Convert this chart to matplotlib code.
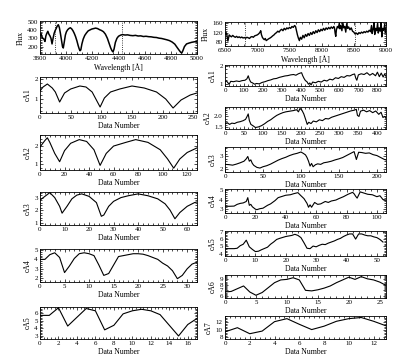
import matplotlib
matplotlib.use("Agg")
import matplotlib.pyplot as plt
from matplotlib.ticker import MultipleLocator, AutoMinorLocator

# ---- blue spectrum (3800-5000 A) ----
blue_wl = [3800, 3808, 3815, 3822, 3830, 3838, 3845, 3852, 3860, 3868,
           3876, 3884, 3892, 3900, 3908, 3916, 3924, 3932, 3940, 3948,
           3956, 3964, 3972, 3978, 3986, 3994, 4002, 4012, 4022, 4032,
           4042, 4052, 4062, 4072, 4082, 4092, 4100, 4106, 4112, 4120,
           4130, 4142, 4155, 4168, 4180, 4195, 4210, 4225, 4240, 4255,
           4270, 4285, 4300, 4315, 4328, 4340, 4350, 4358, 4366, 4376,
           4388, 4400, 4415, 4430, 4450, 4470, 4490, 4510, 4530, 4550,
           4570, 4590, 4610, 4630, 4650, 4670, 4690, 4710, 4730, 4750,
           4770, 4790, 4810, 4830, 4850, 4866, 4876, 4884, 4892, 4904,
           4920, 4940, 4960, 4980, 5000]
blue_flux = [330, 355, 320, 300, 290, 262, 330, 360, 385, 350,
             330, 300, 232, 300, 360, 395, 420, 450, 465, 430,
             360, 280, 200, 183, 260, 340, 380, 405, 420, 428,
             415, 392, 360, 320, 270, 210, 170, 150, 160, 230,
             290, 335, 365, 390, 400, 412, 418, 424, 418, 405,
             395, 380, 350, 300, 240, 185, 150, 135, 170, 250,
             300, 325, 338, 345, 340, 342, 335, 332, 336, 328,
             330, 322, 325, 320, 318, 312, 310, 302, 298, 290,
             282, 272, 255, 230, 185, 150, 130, 123, 150, 200,
             232, 243, 252, 258, 262]

# ---- red spectrum (6500-9000 A) ----
red_wl = [6500, 6515, 6525, 6535, 6545, 6555, 6565, 6580, 6600, 6620,
          6640, 6660, 6680, 6700, 6720, 6740, 6760, 6780, 6800, 6820,
          6840, 6860, 6880, 6900, 6920, 6940, 6960, 6980, 7000, 7020,
          7040, 7055, 7065, 7080, 7095, 7110, 7125, 7140, 7160, 7180,
          7200, 7220, 7240, 7260, 7280, 7300, 7320, 7340, 7360, 7380,
          7400, 7420, 7440, 7460, 7480, 7500, 7520, 7540, 7560, 7580,
          7595, 7610, 7625, 7640, 7655, 7670, 7690, 7710, 7730, 7750,
          7770, 7790, 7810, 7830, 7850, 7870, 7890, 7910, 7930, 7950,
          7970, 7990, 8010, 8030, 8050, 8070, 8090, 8110, 8130, 8150,
          8170, 8190, 8200, 8210, 8220, 8230, 8245, 8260, 8275, 8285,
          8300, 8315, 8330, 8345, 8360, 8375, 8390, 8405, 8420, 8440,
          8460, 8480, 8500, 8520, 8540, 8560, 8580, 8600, 8620, 8640,
          8660, 8680, 8700, 8720, 8740, 8760, 8775, 8785, 8800, 8815,
          8825, 8840, 8855, 8870, 8880, 8895, 8910, 8925, 8935, 8950,
          8965, 8980, 8990, 9000]
red_flux = [112, 120, 116, 100, 84, 96, 110, 106, 102, 108,
            103, 100, 104, 99, 102, 98, 101, 97, 99, 96,
            100, 98, 95, 101, 103, 100, 106, 108, 110, 114,
            120, 128, 112, 100, 94, 90, 95, 86, 90, 94,
            97, 101, 106, 110, 116, 120, 126, 122, 130, 134,
            128, 138, 132, 140, 136, 142, 138, 146, 142, 150,
            146, 128, 110, 96, 86, 100, 92, 108, 98, 112,
            104, 116, 108, 120, 112, 124, 116, 128, 120, 132,
            124, 134, 128, 138, 130, 140, 134, 142, 136, 144,
            138, 146, 140, 118, 104, 132, 146, 140, 160, 136,
            150, 128, 162, 140, 146, 122, 158, 138, 144, 132,
            140, 126, 122, 114, 118, 112, 120, 116, 122, 118,
            124, 120, 126, 122, 130, 124, 150, 116, 134, 165,
            112, 138, 128, 160, 118, 140, 126, 164, 102, 138,
            130, 156, 120, 134]

# ---- blue approximation coefficients ----
b_ca1_x = [0, 5, 12, 20, 25, 32, 40, 50, 65, 75, 85, 98, 105, 115, 130,
           150, 170, 190, 205, 217, 230, 245, 256]
b_ca1_y = [1.4, 1.6, 1.75, 1.55, 1.35, 0.85, 1.3, 1.5, 1.65, 1.6, 1.35, 0.6,
           1.05, 1.35, 1.5, 1.65, 1.55, 1.35, 1.0, 0.55, 0.95, 1.2, 1.3]

b_ca2_x = [0, 4, 6, 8, 12, 16, 20, 25, 32, 38, 44, 49, 54, 60, 70, 78, 88,
           98, 104, 109, 114, 120, 128]
b_ca2_y = [1.95, 2.3, 2.45, 2.2, 1.6, 1.15, 1.75, 2.15, 2.35, 2.25, 1.8, 0.95,
           1.6, 2.0, 2.2, 2.35, 2.2, 1.8, 1.3, 0.8, 1.3, 1.65, 1.9]

b_ca3_x = [0, 2, 4, 6, 8, 9, 11, 13, 15, 17, 20, 23, 25, 26, 28, 30, 33, 36,
           40, 44, 48, 51, 53, 55, 57, 60, 63, 64]
b_ca3_y = [2.8, 3.1, 3.4, 3.0, 2.3, 1.75, 2.3, 2.9, 3.2, 3.3, 3.1, 2.6, 1.5,
           1.6, 2.3, 2.7, 3.0, 3.15, 3.3, 3.15, 2.9, 2.5, 2.0, 1.3, 1.8, 2.3,
           2.6, 2.65]

b_ca4_y = [4.0, 4.0, 4.5, 4.7, 4.2, 2.6, 3.3, 4.1, 4.6, 4.7, 4.6, 4.4, 3.4,
           2.3, 2.5, 3.4, 4.3, 4.4, 4.5, 4.6, 4.6, 4.55, 4.4, 4.2, 4.0, 3.6,
           3.3, 2.8, 1.95, 2.3, 3.0, 3.5, 3.7]

b_ca5_y = [5.7, 5.7, 6.7, 4.3, 5.45, 6.6, 6.3, 3.8, 4.4, 5.9, 6.3, 6.5, 6.3,
           5.8, 4.4, 3.0, 4.5, 5.3]

# ---- red approximation coefficients ----
r_ca1_x = [0, 8, 16, 22, 30, 45, 60, 75, 90, 105, 115, 122, 128, 135, 145,
           155, 165, 180, 195, 210, 225, 240, 255, 270, 285, 300, 315, 330,
           345, 360, 372, 385, 395, 402, 408, 415, 422, 430, 438, 445, 452,
           460, 475, 490, 505, 520, 535, 550, 565, 580, 595, 610, 625, 640,
           655, 670, 680, 687, 692, 700, 715, 730, 745, 760, 775, 790, 800,
           810, 820, 830, 838, 845]
r_ca1_y = [1.12, 1.16, 1.05, 0.98, 1.14, 1.12, 1.16, 1.13, 1.18, 1.2, 1.28,
           1.45, 1.25, 1.1, 1.05, 0.98, 1.02, 1.0, 1.08, 1.12, 1.18, 1.22,
           1.28, 1.3, 1.36, 1.4, 1.44, 1.46, 1.5, 1.52, 1.48, 1.56, 1.6,
           1.62, 1.45, 1.3, 1.18, 1.12, 0.98, 1.05, 0.94, 1.1, 1.06, 1.14,
           1.1, 1.2, 1.16, 1.26, 1.22, 1.34, 1.3, 1.4, 1.36, 1.46, 1.44,
           1.52, 1.55, 1.3, 1.2, 1.5, 1.56, 1.52, 1.62, 1.48, 1.58, 1.45,
           1.65, 1.4, 1.6, 1.38, 1.55, 1.42]

r_ca2_x = [0, 6, 12, 18, 25, 32, 40, 48, 54, 58, 61, 64, 68, 74, 80, 88, 96,
           104, 112, 120, 128, 136, 144, 152, 160, 170, 180, 188, 193, 197,
           202, 207, 212, 216, 220, 226, 232, 240, 248, 256, 264, 272, 280,
           290, 300, 310, 320, 330, 340, 345, 348, 352, 356, 364, 372, 380,
           388, 396, 404, 410, 415, 420, 423]
r_ca2_y = [1.66, 1.7, 1.62, 1.68, 1.66, 1.72, 1.75, 1.8, 1.86, 2.0, 2.12, 1.8,
           1.62, 1.55, 1.47, 1.5, 1.56, 1.65, 1.76, 1.84, 1.95, 2.05, 2.12,
           2.18, 2.22, 2.25, 2.28, 2.32, 2.22, 2.38, 2.3, 2.12, 1.85, 1.62,
           1.72, 1.66, 1.78, 1.74, 1.84, 1.8, 1.9, 1.88, 1.96, 2.02, 2.08,
           2.14, 2.2, 2.26, 2.3, 2.34, 2.05, 2.0, 2.25, 2.3, 2.22, 2.28, 2.18,
           2.26, 2.1, 2.2, 1.95, 2.0, 1.9]

r_ca3_x = [0, 5, 10, 15, 20, 25, 28, 30, 32, 34, 36, 38, 42, 46, 50, 55, 60,
           65, 70, 75, 80, 85, 90, 95, 100, 103, 106, 108, 110, 112, 114, 116,
           119, 122, 126, 130, 135, 140, 145, 150, 155, 160, 165, 170, 173,
           176, 180, 185, 190, 195, 200, 205, 210, 212]
r_ca3_y = [2.38, 2.36, 2.32, 2.4, 2.5, 2.62, 2.8, 2.98, 2.62, 2.72, 2.45, 2.3,
           2.15, 2.1, 2.2, 2.28, 2.4, 2.55, 2.7, 2.82, 2.92, 3.05, 3.15, 3.22,
           3.32, 3.22, 3.1, 2.9, 2.62, 2.25, 2.45, 2.2, 2.35, 2.42, 2.38, 2.5,
           2.55, 2.62, 2.72, 2.8, 2.9, 3.05, 3.2, 3.35, 2.75, 3.3, 3.28, 3.22,
           3.25, 3.12, 3.05, 2.9, 2.75, 2.72]

r_ca4_x = [0, 3, 6, 8, 10, 12, 14, 15, 16, 17, 18, 20, 21, 23, 25, 28, 30, 33,
           35, 38, 40, 43, 45, 48, 50, 52, 54, 55, 56, 57, 59, 61, 63, 66, 68,
           70, 73, 75, 78, 81, 84, 85, 86, 87, 89, 91, 94, 97, 100, 102, 104,
           106]
r_ca4_y = [3.3, 3.3, 3.32, 3.5, 3.6, 3.65, 3.8, 4.2, 3.4, 3.5, 3.25, 3.0, 2.95,
           3.05, 3.1, 3.4, 3.55, 3.9, 4.2, 4.35, 4.45, 4.5, 4.6, 4.72, 4.4,
           4.1, 3.6, 3.2, 3.45, 3.2, 3.7, 3.5, 3.55, 3.8, 3.7, 3.85, 3.95, 4.1,
           4.3, 4.55, 4.75, 4.6, 4.35, 4.15, 4.8, 4.7, 4.55, 4.5, 4.3, 4.4,
           4.0, 3.95]

r_ca5_x = [0, 3, 4, 5, 6, 7, 8, 9, 10, 11, 12, 14, 15, 16, 17, 18, 20, 22, 23,
           24, 25, 26, 27, 28, 29, 30, 31, 32, 33, 34, 35, 36, 37, 38, 39, 40,
           41, 42, 43, 44, 45, 46, 47, 48, 49, 50, 51, 52]
r_ca5_y = [4.7, 4.7, 4.75, 5.1, 5.3, 5.85, 4.95, 4.6, 4.3, 4.35, 4.55, 4.9,
           5.3, 5.6, 5.95, 6.1, 6.35, 6.5, 6.65, 6.5, 6.2, 5.5, 4.75, 4.7,
           5.05, 4.95, 5.15, 5.3, 5.25, 5.45, 5.6, 5.75, 5.95, 6.1, 6.35, 6.55,
           6.7, 6.7, 6.0, 6.7, 6.7, 6.55, 6.45, 6.45, 6.3, 6.2, 5.95, 5.6]

r_ca6_y = [6.7, 6.8, 7.3, 7.8, 6.7, 6.1, 6.6, 7.5, 8.4, 8.9, 9.0, 9.3, 8.9,
           7.0, 6.9, 7.1, 7.4, 7.8, 8.4, 8.9, 9.4, 9.0, 9.5, 9.1, 8.9, 8.5,
           7.9]

r_ca7_y = [9.4, 10.5, 8.9, 9.6, 12.1, 12.9, 11.4, 10.0, 10.9, 12.2, 12.9,
           13.2, 12.2, 11.0]

blue_marks = [3914, 4430]
red_marks = [6812, 8516]


def style(ax, xmaj, ymaj):
    ax.xaxis.set_major_locator(MultipleLocator(xmaj))
    ax.yaxis.set_major_locator(MultipleLocator(ymaj))
    ax.xaxis.set_minor_locator(AutoMinorLocator(5))
    ax.yaxis.set_minor_locator(AutoMinorLocator(5))
    ax.tick_params(which='both', direction='in', top=True, right=True,
                   width=0.5, pad=1.5)
    ax.tick_params(which='major', length=2.5)
    ax.tick_params(which='minor', length=1.2)
    for s in ax.spines.values():
        s.set_linewidth(0.6)


def main():
    plt.rcParams['font.family'] = ['Liberation Serif', 'DejaVu Serif']
    plt.rcParams['font.size'] = 5.5
    plt.rcParams['xtick.labelsize'] = 5
    plt.rcParams['ytick.labelsize'] = 5

    W, H = 407, 362
    fig = plt.figure(figsize=(W / 100, H / 100), dpi=100)

    def add_ax(left, right, top, bottom):
        return fig.add_axes([left / W, 1 - bottom / H,
                             (right - left) / W, (bottom - top) / H])

    L0, L1 = 40, 197
    R0, R1 = 225, 386

    # --- left column: blue arm ---
    ax = add_ax(L0, L1, 21, 54)
    ax.plot(blue_wl, blue_flux, color='k', lw=1.1)
    for w in blue_marks:
        ax.axvline(w, color='k', ls=':', lw=0.6)
    ax.set_xlim(3800, 5000)
    ax.set_ylim(110, 510)
    style(ax, 200, 100)
    ax.set_xlabel('Wavelength [Å]', labelpad=1.5)
    ax.set_ylabel('Flux', labelpad=2)

    left_panels = [
        (77, 113, b_ca1_x, b_ca1_y, 256, (0.3, 2.1), 50, 1, 'cA1'),
        (135, 170, b_ca2_x, b_ca2_y, 128, (0.7, 2.6), 20, 1, 'cA2'),
        (192, 225, b_ca3_x, b_ca3_y, 64, (0.8, 3.45), 10, 1, 'cA3'),
        (249, 282, list(range(len(b_ca4_y))), b_ca4_y, 32, (1.6, 5.1), 5, 1, 'cA4'),
        (307, 339, list(range(len(b_ca5_y))), b_ca5_y, 17, (2.6, 6.8), 2, 1, 'cA5'),
    ]
    for top, bot, xs, ys, xmax, ylim, xmaj, ymaj, name in left_panels:
        ax = add_ax(L0, L1, top, bot)
        ax.plot(xs, ys, color='k', lw=0.8)
        ax.set_xlim(0, xmax)
        ax.set_ylim(*ylim)
        style(ax, xmaj, ymaj)
        ax.set_xlabel('Data Number', labelpad=1.5)
        ax.set_ylabel(name, labelpad=2)

    # --- right column: red arm ---
    ax = add_ax(R0, R1, 22, 46)
    ax.plot(red_wl, red_flux, color='k', lw=1.0)
    for w in red_marks:
        ax.axvline(w, color='k', ls=':', lw=0.6)
    ax.set_xlim(6500, 9000)
    ax.set_ylim(63, 165)
    style(ax, 500, 40)
    ax.set_xlabel('Wavelength [Å]', labelpad=1.5)
    ax.set_ylabel('Flux', labelpad=2)

    right_panels = [
        (65, 86, r_ca1_x, r_ca1_y, 845, (0.88, 2.05), 100, 1, 'cA1'),
        (107, 129, r_ca2_x, r_ca2_y, 423, (1.4, 2.45), 50, 0.5, 'cA2'),
        (147, 172, r_ca3_x, r_ca3_y, 212, (1.8, 3.7), 50, 1, 'cA3'),
        (189, 213, r_ca4_x, r_ca4_y, 106, (2.6, 5.1), 20, 1, 'cA4'),
        (231, 256, r_ca5_x, r_ca5_y, 53, (3.7, 7.1), 10, 1, 'cA5'),
        (275, 298, list(range(len(r_ca6_y))), r_ca6_y, 26, (5.6, 9.8), 1, 1, 'cA6'),
        (316, 339, list(range(len(r_ca7_y))), r_ca7_y, 13, (7.5, 13.6), 2, 2, 'cA7'),
    ]
    for top, bot, xs, ys, xmax, ylim, xmaj, ymaj, name in right_panels:
        ax = add_ax(R0, R1, top, bot)
        ax.plot(xs, ys, color='k', lw=0.8)
        ax.set_xlim(0, xmax)
        ax.set_ylim(*ylim)
        style(ax, 5 if name == 'cA6' else xmaj, ymaj)
        if name == 'cA2':
            ax.yaxis.set_major_formatter(plt.FormatStrFormatter('%.1f'))
        ax.set_xlabel('Data Number', labelpad=1.5)
        ax.set_ylabel(name, labelpad=2)

    fig.savefig('out.png', dpi=100)


if __name__ == "__main__":
    main()
